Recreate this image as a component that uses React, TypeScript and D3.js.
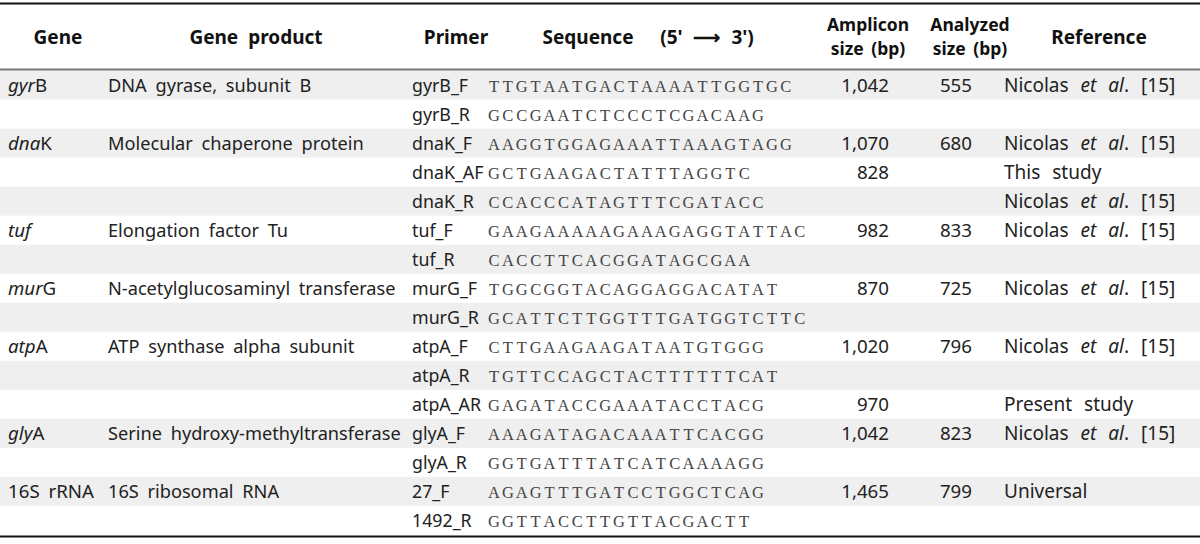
import * as d3 from 'd3'

const W = 1200
const H = 544

// one entry per table row
const genes = [['gyr', 'B'], null, ['dna', 'K'], null, null, ['tuf', ''], null, ['mur', 'G'], null, ['atp', 'A'], null, null, ['gly', 'A'], null, ['', '16S rRNA'], null]
const products = ['DNA gyrase, subunit B', '', 'Molecular chaperone protein', '', '', 'Elongation factor Tu', '', 'N-acetylglucosaminyl transferase', '', 'ATP synthase alpha subunit', '', '', 'Serine hydroxy-methyltransferase', '', '16S ribosomal RNA', '']
const primers = ['gyrB_F', 'gyrB_R', 'dnaK_F', 'dnaK_AF', 'dnaK_R', 'tuf_F', 'tuf_R', 'murG_F', 'murG_R', 'atpA_F', 'atpA_R', 'atpA_AR', 'glyA_F', 'glyA_R', '27_F', '1492_R']
const sequences = [
  'TTGTAATGACTAAAATTGGTGC', 'GCCGAATCTCCCTCGACAAG', 'AAGGTGGAGAAATTAAAGTAGG', 'GCTGAAGACTATTTAGGTC',
  'CCACCCATAGTTTCGATACC', 'GAAGAAAAAGAAAGAGGTATTAC', 'CACCTTCACGGATAGCGAA', 'TGGCGGTACAGGAGGACATAT',
  'GCATTCTTGGTTTGATGGTCTTC', 'CTTGAAGAAGATAATGTGGG', 'TGTTCCAGCTACTTTTTTCAT', 'GAGATACCGAAATACCTACG',
  'AAAGATAGACAAATTCACGG', 'GGTGATTTATCATCAAAAGG', 'AGAGTTTGATCCTGGCTCAG', 'GGTTACCTTGTTACGACTT',
]
const amplicon = ['1,042', '', '1,070', '828', '', '982', '', '870', '', '1,020', '', '970', '1,042', '', '1,465', '']
const analyzed = ['555', '', '680', '', '', '833', '', '725', '', '796', '', '', '823', '', '799', '']
const references = ['nic', '', 'nic', 'This study', 'nic', 'nic', '', 'nic', '', 'nic', '', 'Present study', 'nic', '', 'Universal', '']

const rows = d3.range(primers.length)

const FONT = '"Noto Sans", sans-serif'
const SEQ_FONT = '"Liberation Serif", "DejaVu Serif", serif'
const CHAR_W = 13.9 // fixed pitch of the sequence column

const Nicolas = () => (
  <>
    Nicolas <tspan fontStyle="italic">et al</tspan>. [15]
  </>
)

export default function App() {
  const y = d3.scaleBand<number>().domain(rows).range([70.5, 535]).padding(0)
  const mid = (i: number) => (y(i) ?? 0) + y.bandwidth() / 2 + 6.5

  return (
    <svg width={W} height={H} style={{ position: 'absolute', left: 0, top: 0, background: '#fff' }}>
      <rect width={W} height={H} fill="#fff" />
      {rows.map((i) =>
        i % 2 === 0 ? (
          <rect key={i} x={0} y={y(i)} width={W} height={y.bandwidth()} fill="#efefef" />
        ) : null
      )}
      <line x1={0} x2={W} y1={3.5} y2={3.5} stroke="#111" strokeWidth={2.2} />
      <line x1={0} x2={W} y1={69.5} y2={69.5} stroke="#777" strokeWidth={2} />
      <line x1={0} x2={W} y1={536.5} y2={536.5} stroke="#111" strokeWidth={2.2} />

      <g fontFamily={FONT} fontWeight="bold" fill="#111" textAnchor="middle">
        <g fontSize={19}>
          <text x={58} y={44}>Gene</text>
          <text x={256} y={44} wordSpacing={5}>Gene product</text>
          <text x={456} y={44}>Primer</text>
          <text x={588} y={44}>Sequence</text>
          <text x={707} y={44} wordSpacing={6}>(5' ⟶ 3')</text>
          <text x={1099} y={44}>Reference</text>
        </g>
        <g fontSize={17.5}>
          <text x={868} y={31}>Amplicon</text>
          <text x={868} y={55} wordSpacing={3}>size (bp)</text>
          <text x={970} y={31}>Analyzed</text>
          <text x={970} y={55} wordSpacing={3}>size (bp)</text>
        </g>
      </g>

      <g fontFamily={FONT} fontSize={18.7} fill="#222" wordSpacing={4}>
        {rows.map((i) => (
          <g key={i}>
            {genes[i] && (
              <text x={8} y={mid(i)}>
                <tspan fontStyle="italic">{genes[i]![0]}</tspan>
                {genes[i]![1]}
              </text>
            )}
            <text x={108} y={mid(i)} fontSize={18.2}>{products[i]}</text>
            <text x={412} y={mid(i)} fontSize={17.8} wordSpacing={0}>{primers[i]}</text>
            <text x={889} y={mid(i)} textAnchor="end">{amplicon[i]}</text>
            <text x={972} y={mid(i)} textAnchor="end">{analyzed[i]}</text>
            <text x={1004} y={mid(i)} fontSize={19} wordSpacing={7}>
              {references[i] === 'nic' ? <Nicolas /> : references[i]}
            </text>
          </g>
        ))}
      </g>

      <g fontFamily={SEQ_FONT} fontSize={16.5} fill="#444" textAnchor="middle">
        {rows.map((i) => (
          <g key={i}>
            {sequences[i].split('').map((c, k) => (
              <text key={k} x={488 + CHAR_W * k + CHAR_W / 2 - 1} y={mid(i)}>{c}</text>
            ))}
          </g>
        ))}
      </g>
    </svg>
  )
}
